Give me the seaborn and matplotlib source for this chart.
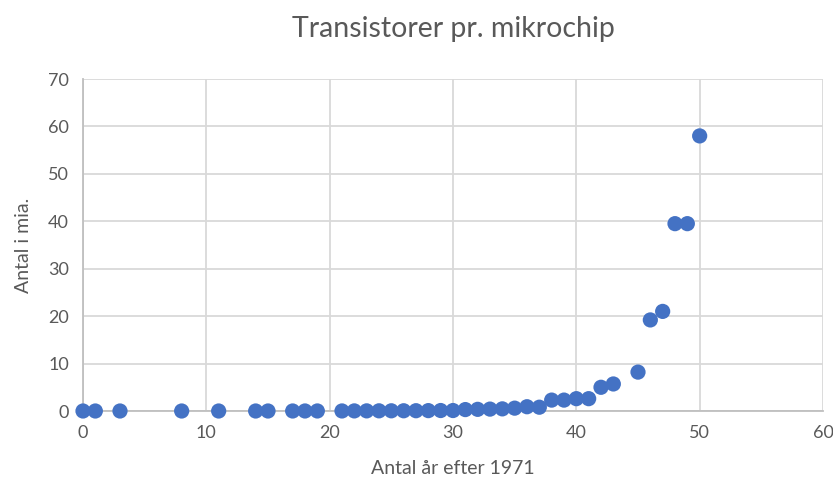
import matplotlib
matplotlib.use("Agg")
import matplotlib.pyplot as plt
import seaborn as sns
import pandas as pd

# years after 1971 and transistor count (billions)
years = [0, 1, 3, 8, 11, 14, 15, 17, 18, 19, 21, 22, 23, 24, 25, 26, 27, 28, 29,
         30, 31, 32, 33, 34, 35, 36, 37, 38, 39, 40, 41, 42, 43, 45, 46, 47, 48, 49, 50]
transistors = [0.0000023, 0.0000035, 0.000006, 0.000029, 0.000134, 0.000275, 0.0012,
               0.0031, 0.0055, 0.0075, 0.0095, 0.021, 0.028, 0.037, 0.042, 0.05, 0.06,
               0.08, 0.1, 0.1, 0.3, 0.35, 0.4, 0.45, 0.6, 0.9, 0.8, 2.3, 2.3, 2.6, 2.6,
               5.0, 5.7, 8.2, 19.2, 21.0, 39.5, 39.5, 58.0]

title = "Transistorer pr. mikrochip"
xlabel = "Antal år efter 1971"
ylabel = "Antal i mia."

df = pd.DataFrame({"x": years, "y": transistors})

sns.set_style("white")
plt.rcParams["font.family"] = ["Lato", "DejaVu Sans"]

fig = plt.figure(figsize=(8.33, 4.87), dpi=100)
ax = fig.add_axes([83 / 833, 76 / 487, 740 / 833, 332 / 487])

sns.scatterplot(data=df, x="x", y="y", ax=ax, s=120, color="#4472C4",
                edgecolor="none", zorder=3, clip_on=False)

ax.set_xlim(0, 60)
ax.set_ylim(0, 70)
ax.set_xticks(range(0, 61, 10))
ax.set_yticks(range(0, 71, 10))
ax.grid(True, color="#d9d9d9", linewidth=1.3)
for s in ["top", "right"]:
    ax.spines[s].set_visible(False)
for s in ["left", "bottom"]:
    ax.spines[s].set_color("#bfbfbf")
    ax.spines[s].set_linewidth(1.3)
ax.tick_params(colors="#595959", labelsize=13, length=0, pad=10)

ax.set_title(title, fontsize=20.5, color="#595959", pad=30)
ax.set_xlabel(xlabel, fontsize=14, color="#595959", labelpad=14)
ax.set_ylabel(ylabel, fontsize=14, color="#595959", labelpad=12)

fig.savefig("out.png", dpi=100)
